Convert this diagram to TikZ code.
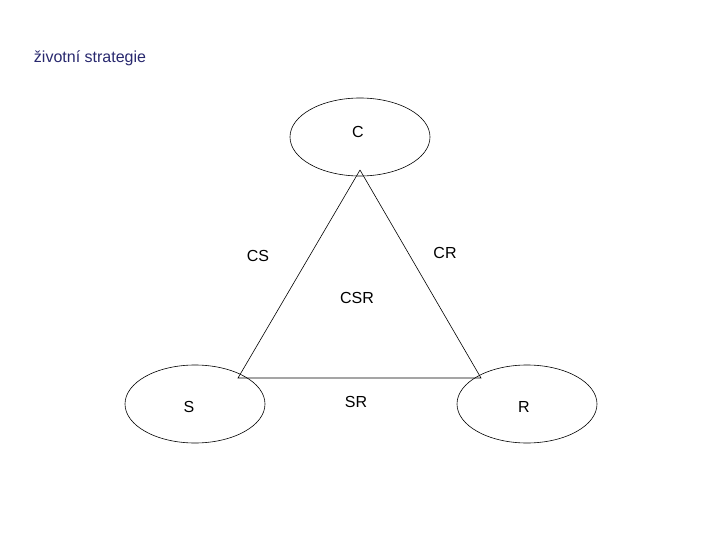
\documentclass[tikz,border=0pt]{standalone}
\usepackage{fontspec}
\setmainfont{Liberation Sans}
\usetikzlibrary{shapes.geometric}
\definecolor{titleblue}{RGB}{40,40,110}
\begin{document}
\begin{tikzpicture}[x=1pt,y=-1pt,
  ell/.style={draw,ellipse,minimum width=140pt,minimum height=78pt,line width=0.6pt},
  lbl/.style={font=\fontsize{16}{18}\selectfont},
  edge/.style={line width=0.6pt}]
\useasboundingbox (0,0) rectangle (720,540);
\node[lbl,text=titleblue] (title) at (90,58) {životní strategie};
\node[ell] (Ce) at (360,137) {};
\node[ell] (Se) at (195,404) {};
\node[ell] (Re) at (527,404) {};
\node[lbl] (C) at (358,132) {C};
\node[lbl] (S) at (189,407) {S};
\node[lbl] (R) at (524,407) {R};
\node[lbl] (CS) at (258,256) {CS};
\node[lbl] (CR) at (445,253) {CR};
\node[lbl] (CSR) at (357,298) {CSR};
\node[lbl] (SR) at (356,402) {SR};
\coordinate (top) at (360,170);
\coordinate (left) at (238,378);
\coordinate (right) at (481,378);
\draw[edge] (top) -- (left) -- (right) -- (top);
\end{tikzpicture}
\end{document}
